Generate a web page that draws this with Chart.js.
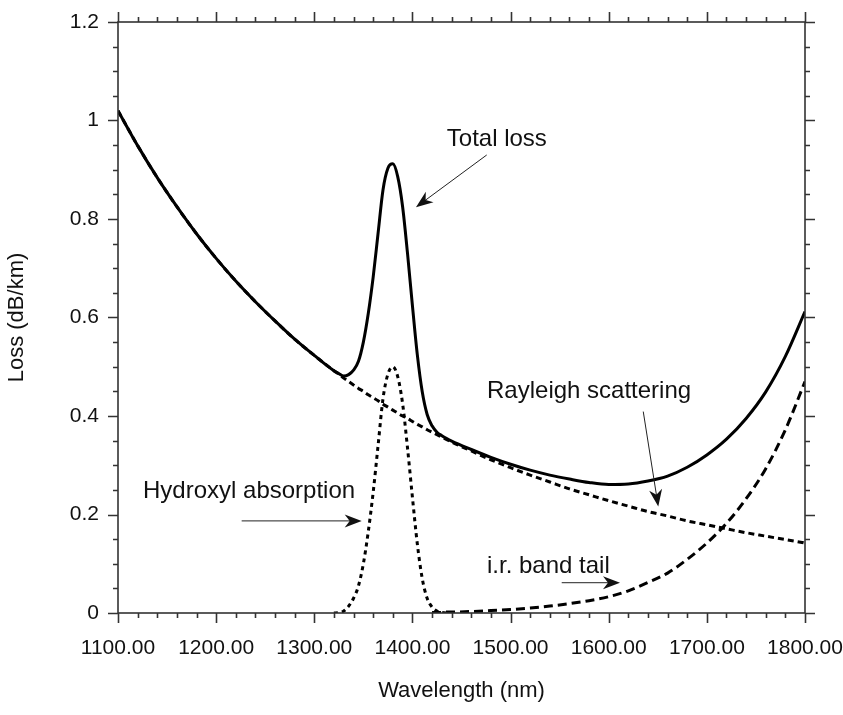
<!DOCTYPE html>
<html>
<head>
<meta charset="utf-8">
<title>Fibre loss spectrum</title>
<script src="https://cdn.jsdelivr.net/npm/chart.js@4.4.1/dist/chart.umd.min.js"></script>
<style>
  html, body { margin: 0; padding: 0; background: #fff; }
</style>
</head>
<body>
<canvas id="myChart" width="843" height="715"></canvas>
<script>
// wavelength grid (nm), finer around the OH peak
var wavelength = [1100, 1120, 1140, 1160, 1180, 1200, 1220, 1240, 1260, 1280, 1300, 1320,
    1325, 1330, 1335, 1340, 1345, 1350, 1355, 1360, 1365, 1370, 1375, 1380, 1385, 1390,
    1395, 1400, 1405, 1410, 1415, 1420, 1425, 1430, 1435, 1440,
    1460, 1480, 1500, 1520, 1540, 1560, 1580, 1600, 1620, 1640, 1660, 1680, 1700, 1720,
    1740, 1760, 1780, 1800];

// Loss values (dB/km)
var totalLoss = [1.020, 0.949, 0.884, 0.825, 0.770, 0.720, 0.674, 0.632, 0.593, 0.556, 0.523, 0.492,
    0.486, 0.481, 0.484, 0.493, 0.511, 0.550, 0.608, 0.682, 0.771, 0.859, 0.903, 0.912, 0.886, 0.825,
    0.730, 0.624, 0.524, 0.449, 0.403, 0.380, 0.367, 0.360, 0.354, 0.349,
    0.332, 0.316, 0.302, 0.290, 0.280, 0.272, 0.265, 0.261, 0.262, 0.268, 0.278, 0.296, 0.321, 0.353,
    0.395, 0.449, 0.521, 0.612];

var rayleigh = [1.020, 0.949, 0.884, 0.825, 0.770, 0.720, 0.674, 0.632, 0.593, 0.556, 0.523, 0.492,
    0.485, 0.477, 0.470, 0.463, 0.456, 0.450, 0.443, 0.437, 0.431, 0.424, 0.418, 0.412, 0.406, 0.400,
    0.395, 0.389, 0.383, 0.378, 0.372, 0.367, 0.362, 0.357, 0.352, 0.347,
    0.329, 0.311, 0.295, 0.280, 0.266, 0.252, 0.240, 0.228, 0.217, 0.206, 0.197, 0.187, 0.179, 0.171,
    0.163, 0.156, 0.149, 0.142];

var hydroxyl = [null, null, null, null, null, null, null, null, null, null, null, 0,
    0.001, 0.004, 0.014, 0.030, 0.055, 0.100, 0.165, 0.245, 0.340, 0.435, 0.485, 0.500, 0.480, 0.425,
    0.335, 0.235, 0.140, 0.070, 0.030, 0.012, 0.004, 0.001, 0, 0,
    null, null, null, null, null, null, null, null, null, null, null, null, null, null,
    null, null, null, null];

var irTail = [null, null, null, null, null, null, null, null, null, null, null, null,
    null, null, null, null, null, null, null, null, null, null, null, null, null, null,
    null, null, null, null, null, 0.001, 0.001, 0.001, 0.002, 0.002,
    0.003, 0.005, 0.007, 0.010, 0.014, 0.019, 0.025, 0.033, 0.045, 0.062, 0.081, 0.109, 0.142, 0.182,
    0.232, 0.293, 0.372, 0.470];

var xTickLabels = ['1100.00', '1200.00', '1300.00', '1400.00', '1500.00', '1600.00', '1700.00', '1800.00'];
var yTickLabels = ['0', '0.2', '0.4', '0.6', '0.8', '1', '1.2'];

// labels + arrows, placed in data units
var notes = [
    { text: 'Total loss', x: 1435, y: 0.948 },
    { text: 'Rayleigh scattering', x: 1476, y: 0.437 },
    { text: 'Hydroxyl absorption', x: 1125.5, y: 0.2335 },
    { text: 'i.r. band tail', x: 1476, y: 0.081 }
];
var arrows = [
    { from: [1475.7, 0.930], to: [1403.6, 0.824] },
    { from: [1635.2, 0.409], to: [1650.5, 0.216] },
    { from: [1226, 0.187], to: [1348.3, 0.187] },
    { from: [1552.1, 0.0615], to: [1611.5, 0.0615] }
];

function toPoints(arr) {
    return wavelength.map(function (w, i) { return { x: w, y: arr[i] }; });
}

var FONT = "'Liberation Sans', Arial, Helvetica, sans-serif";
var AXIS_COLOR = '#333';

// frame + tick marks on all four sides
var framePlugin = {
    id: 'frame',
    afterDraw: function (chart) {
        var c = chart.ctx, a = chart.chartArea;
        var xs = chart.scales.x, ys = chart.scales.y;
        c.save();
        c.strokeStyle = AXIS_COLOR;
        c.lineWidth = 1.6;
        c.strokeRect(a.left, a.top, a.right - a.left, a.bottom - a.top);
        c.beginPath();
        for (var v = 1100; v <= 1800; v += 20) {
            var len = (v % 100 === 0) ? 10 : 5;
            var px = Math.round(xs.getPixelForValue(v)) + 0.5;
            c.moveTo(px, a.bottom); c.lineTo(px, a.bottom + len);
            c.moveTo(px, a.top); c.lineTo(px, a.top - len);
        }
        for (var i = 0; i <= 24; i++) {
            var l2 = (i % 4 === 0) ? 10 : 5;
            var py = Math.round(ys.getPixelForValue(i * 0.05)) + 0.5;
            c.moveTo(a.left, py); c.lineTo(a.left - l2, py);
            c.moveTo(a.right, py); c.lineTo(a.right + l2, py);
        }
        c.stroke();
        c.restore();
    }
};

var notesPlugin = {
    id: 'notes',
    afterDraw: function (chart) {
        var c = chart.ctx;
        var xs = chart.scales.x, ys = chart.scales.y;
        c.save();
        c.fillStyle = '#111';
        c.font = '24px ' + FONT;
        c.textAlign = 'left';
        c.textBaseline = 'alphabetic';
        notes.forEach(function (n) {
            c.fillText(n.text, xs.getPixelForValue(n.x), ys.getPixelForValue(n.y));
        });
        c.strokeStyle = '#222';
        c.lineWidth = 1;
        arrows.forEach(function (ar) {
            var x1 = xs.getPixelForValue(ar.from[0]), y1 = ys.getPixelForValue(ar.from[1]);
            var x2 = xs.getPixelForValue(ar.to[0]), y2 = ys.getPixelForValue(ar.to[1]);
            var ang = Math.atan2(y2 - y1, x2 - x1);
            c.beginPath();
            c.moveTo(x1, y1);
            c.lineTo(x2 - 10 * Math.cos(ang), y2 - 10 * Math.sin(ang));
            c.stroke();
            // arrow head
            c.save();
            c.translate(x2, y2);
            c.rotate(ang);
            c.beginPath();
            c.moveTo(0, 0);
            c.lineTo(-17, -6.5);
            c.lineTo(-12, 0);
            c.lineTo(-17, 6.5);
            c.closePath();
            c.fill();
            c.restore();
        });
        c.restore();
    }
};

var ctx = document.getElementById('myChart').getContext('2d');

var myChart = new Chart(ctx, {
    type: 'line',
    data: {
        datasets: [{
            label: 'Total loss',
            data: toPoints(totalLoss),
            borderColor: '#000',
            borderWidth: 3,
            order: 0
        }, {
            label: 'Rayleigh scattering',
            data: toPoints(rayleigh),
            borderColor: '#000',
            borderWidth: 3,
            borderDash: [6, 4],
            order: 1
        }, {
            label: 'Hydroxyl absorption',
            data: toPoints(hydroxyl),
            borderColor: '#000',
            borderWidth: 3,
            borderDash: [4, 4],
            order: 1
        }, {
            label: 'i.r. band tail',
            data: toPoints(irTail),
            borderColor: '#000',
            borderWidth: 3,
            borderDash: [9, 5],
            order: 1
        }]
    },
    options: {
        responsive: false,
        animation: false,
        layout: { padding: { top: 22, right: 38, left: 0, bottom: 0 } },
        elements: {
            point: { radius: 0 },
            line: { cubicInterpolationMode: 'monotone', fill: false }
        },
        plugins: {
            legend: { display: false },
            tooltip: { enabled: false }
        },
        scales: {
            x: {
                type: 'linear',
                min: 1100,
                max: 1800,
                // fixed box, no label overhang so the plot area lands where the original does
                afterFit: function (s) { s.height = 102; s.paddingLeft = 0; s.paddingRight = 0; },
                grid: { display: true, drawOnChartArea: false, drawTicks: false },
                border: { display: false },
                ticks: {
                    stepSize: 100,
                    padding: 23,
                    color: '#111',
                    font: { family: FONT, size: 21 },
                    maxRotation: 0,
                    callback: function (v, i) { return xTickLabels[i]; }
                },
                title: {
                    display: true,
                    text: 'Wavelength (nm)',
                    color: '#111',
                    font: { family: FONT, size: 22 },
                    padding: { top: 0, bottom: 11 }
                }
            },
            y: {
                min: 0,
                max: 1.2,
                afterFit: function (s) { s.width = 118; s.paddingTop = 0; s.paddingBottom = 0; },
                grid: { display: true, drawOnChartArea: false, drawTicks: false },
                border: { display: false },
                ticks: {
                    stepSize: 0.2,
                    padding: 19,
                    color: '#111',
                    font: { family: FONT, size: 21 },
                    callback: function (v, i) { return yTickLabels[i]; }
                },
                title: {
                    display: true,
                    text: 'Loss (dB/km)',
                    color: '#111',
                    font: { family: FONT, size: 22 },
                    padding: { top: 4, bottom: 0 }
                }
            }
        }
    },
    plugins: [framePlugin, notesPlugin]
});
</script>
</body>
</html>
